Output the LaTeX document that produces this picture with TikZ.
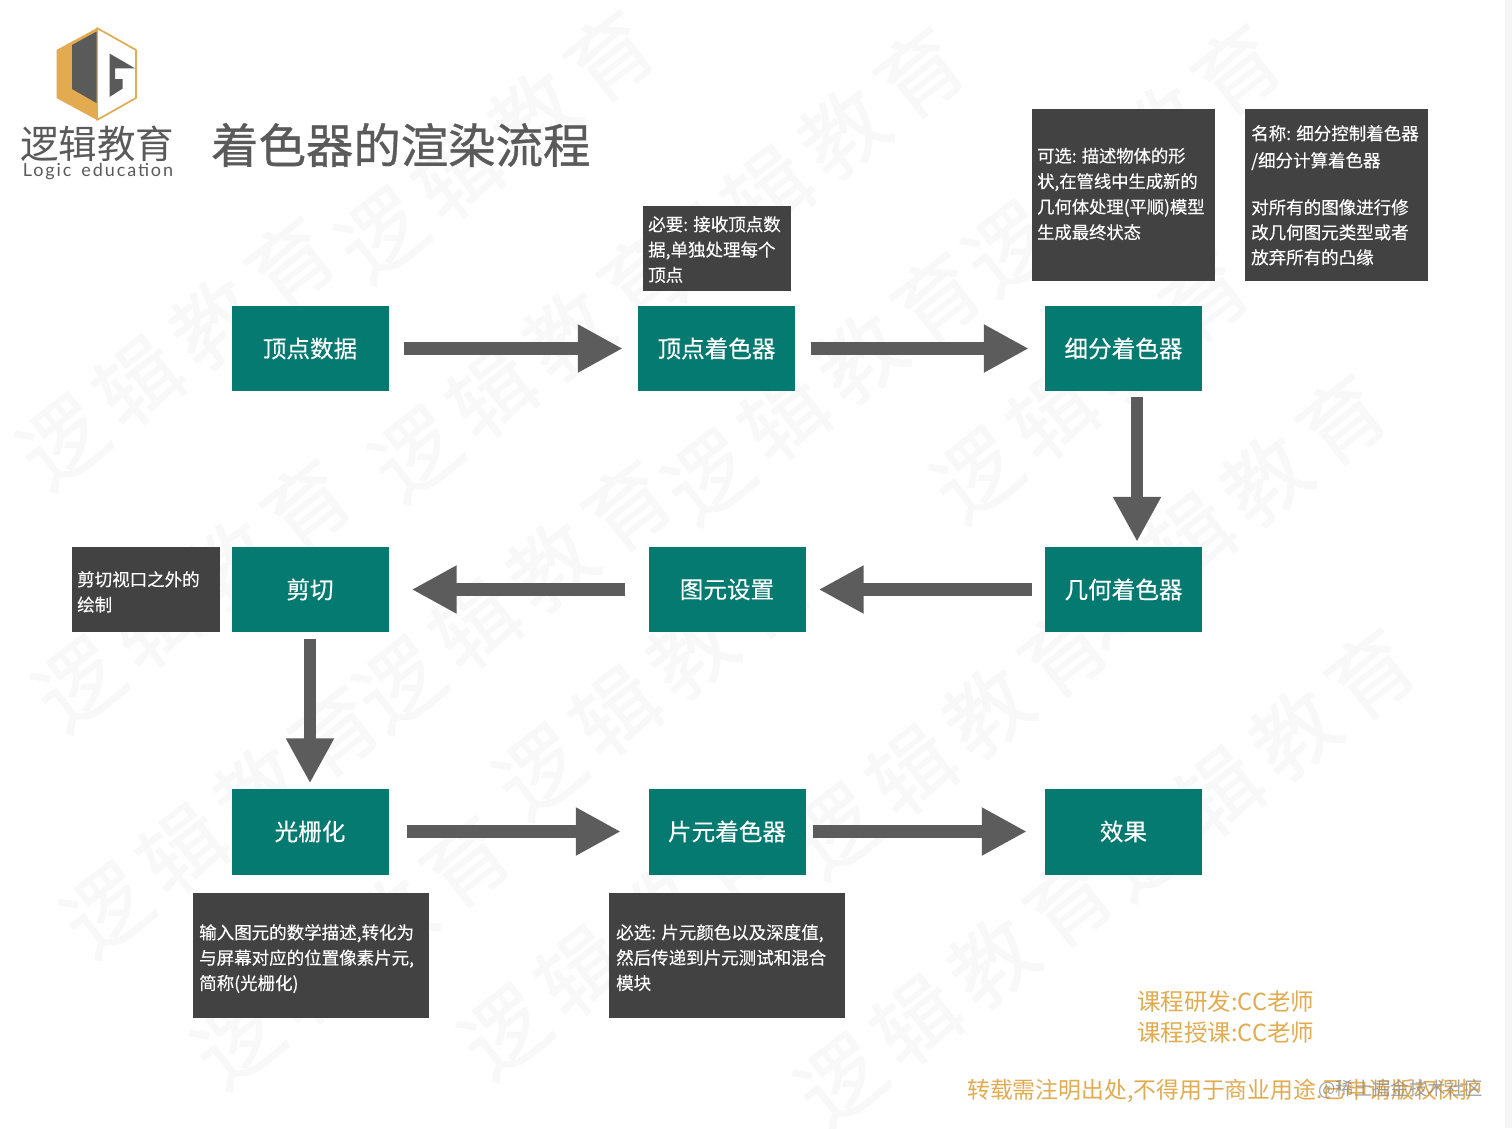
\documentclass[tikz,border=0pt]{standalone}
\usepackage{fontspec}
\setmainfont[FakeBold=0.25]{Noto Sans CJK SC}
\newfontfamily\cjkbold[FakeBold=0.7]{Noto Sans CJK SC}
\newfontfamily\cjkplain{Noto Sans CJK SC}
\newfontfamily\wmfont[FakeBold=0.8,LetterSpace=15]{Noto Sans CJK SC}
\newfontfamily\latinlight[LetterSpace=10.5]{Lato}
\usetikzlibrary{arrows.meta}
\definecolor{tealbox}{HTML}{047A70}
\definecolor{darkbox}{HTML}{424242}
\definecolor{arrowgray}{HTML}{5C5C5C}
\definecolor{amber}{HTML}{E3AB4F}
\definecolor{wmark}{HTML}{F8F8F8}
\definecolor{titlegray}{HTML}{5A5A5A}
\tikzset{
 x=1pt,y=-1pt,
 tealnode/.style={fill=tealbox,text=white,minimum width=157pt,minimum height=85pt,inner sep=0pt,font=\fontsize{23.6}{27}\selectfont},
 noteb/.style={fill=darkbox,anchor=north west,inner sep=0pt},
 notet/.style={text=white,anchor=north west,inner sep=0pt,align=left,font=\fontsize{17.5}{25.3}\selectfont},
 flow/.style={draw=arrowgray,line width=12.5pt,-{Triangle[length=45pt,width=45pt,fill=arrowgray]}},
 wm/.style={text=wmark,rotate=38,font=\wmfont\fontsize{84}{88}\selectfont},
 credit/.style={text=amber,inner sep=0pt,anchor=west,font=\cjkplain\fontsize{23.5}{28}\selectfont},
}
\begin{document}
\begin{tikzpicture}
\useasboundingbox (0,0) rectangle (1512,1128);
\fill[white] (0,0) rectangle (1512,1128);
\fill[black!4] (1505,0) rectangle (1512,1128);
% watermark
\foreach \wx/\wy in {176/352,192/594,220/820,351/951,495/145,529/364,513/595,653/682,618/942,805/162,822/387,949/741,954/991,1122/159,1090/385,1227/509,1256/763}{
 \node[wm] at (\wx,\wy) {逻辑教育};
}
% logo
\fill[amber] (97,28) -- (56.5,50) -- (56.5,98) -- (97,120) -- cycle;
\draw[amber,line width=1.7pt,fill=white,line join=round] (97,28) -- (136,50) -- (136,98) -- (97,120) -- cycle;
\fill[titlegray] (72,45) -- (96.5,31.5) -- (96.5,103) -- (72,89) -- cycle;
\fill[titlegray] (109.5,53.5) -- (135,68.3) -- (115,68.3) -- (115,79) -- (122.7,79) -- (122.7,88.5) -- (109.5,97) -- cycle;
\node[text=titlegray,inner sep=0pt,font=\cjkplain\fontsize{38.5}{40}\selectfont] (brand) at (97,144) {逻辑教育};
\node[text=titlegray,inner sep=0pt,font=\latinlight\fontsize{18}{20}\selectfont] (brandlat) at (98,171.5) {Logic\hspace{10pt}education};
\node[text=titlegray,anchor=west,inner sep=0pt,font=\cjkbold\fontsize{47.4}{50}\selectfont] (title) at (211,145) {着色器的渲染流程};
% flow nodes
\node[tealnode] (n1) at (310,348.5) {顶点数据};
\node[tealnode] (n2) at (716.5,348.5) {顶点着色器};
\node[tealnode] (n3) at (1123.5,348.5) {细分着色器};
\node[tealnode] (n4) at (1123.5,589.5) {几何着色器};
\node[tealnode] (n5) at (727,589.5) {图元设置};
\node[tealnode] (n6) at (310,589.5) {剪切};
\node[tealnode,minimum height=86pt] (n7) at (310,831.5) {光栅化};
\node[tealnode,minimum height=86pt] (n8) at (727,831.5) {片元着色器};
\node[tealnode,minimum height=86pt] (n9) at (1123.5,831.5) {效果};
% connectors
\draw[flow,shorten <=15pt,shorten >=15pt] (n1) -- (n2);
\draw[flow,shorten <=15.5pt,shorten >=16pt] (n2) -- (n3);
\draw[flow,shorten <=6pt,shorten >=5pt] ([xshift=13.5pt]n3.south) -- ([xshift=13.5pt]n4.north);
\draw[flow,shorten <=13pt,shorten >=13pt] (n4) -- (n5);
\draw[flow,shorten <=23pt,shorten >=23pt] (n5) -- (n6);
\draw[flow,shorten <=7pt,shorten >=5pt] (n6) -- (n7);
\draw[flow,shorten <=18pt,shorten >=27.5pt] (n7) -- (n8);
\draw[flow,shorten <=7pt,shorten >=18pt] (n8) -- (n9);
% notes
\node[noteb,minimum width=148pt,minimum height=85pt] (b1) at (643,206) {};
\node[notet] (t1) at (648,216) {必要: 接收顶点数\\据,单独处理每个\\顶点};
\node[noteb,minimum width=183pt,minimum height=172pt] (b2) at (1032,109) {};
\node[notet,font=\fontsize{17.3}{25.5}\selectfont] (t2) at (1037,147.5) {可选: 描述物体的形\\状,在管线中生成新的\\几何体处理(平顺)模型\\生成最终状态};
\node[noteb,minimum width=183pt,minimum height=172pt] (b3) at (1245,109) {};
\node[notet,font=\fontsize{17.5}{25}\selectfont] (t3) at (1251,125) {名称: 细分控制着色器\\[2pt]/细分计算着色器\\[22pt]对所有的图像进行修\\改几何图元类型或者\\放弃所有的凸缘};
\node[noteb,minimum width=148pt,minimum height=85pt] (b4) at (72,547) {};
\node[notet] (t4) at (77,571) {剪切视口之外的\\绘制};
\node[noteb,minimum width=236pt,minimum height=125pt] (b5) at (193,893) {};
\node[notet] (t5) at (199,924) {输入图元的数学描述,转化为\\与屏幕对应的位置像素片元,\\简称(光栅化)};
\node[noteb,minimum width=236pt,minimum height=125pt] (b6) at (609,893) {};
\node[notet] (t6) at (616,924) {必选: 片元颜色以及深度值,\\然后传递到片元测试和混合\\模块};
% credits
\node[credit] (c1) at (1137,1002) {课程研发:CC老师};
\node[credit] (c2) at (1137,1033) {课程授课:CC老师};
\node[credit,font=\cjkplain\fontsize{22.85}{28}\selectfont] (c3) at (967,1091) {转载需注明出处,不得用于商业用途.已申请版权保护};
\node[text=black!45,inner sep=0pt,anchor=east,opacity=0.8,font=\cjkplain\fontsize{18.4}{22}\selectfont] (c4) at (1483,1089) {@稀土掘金技术社区};
\end{tikzpicture}
\end{document}
